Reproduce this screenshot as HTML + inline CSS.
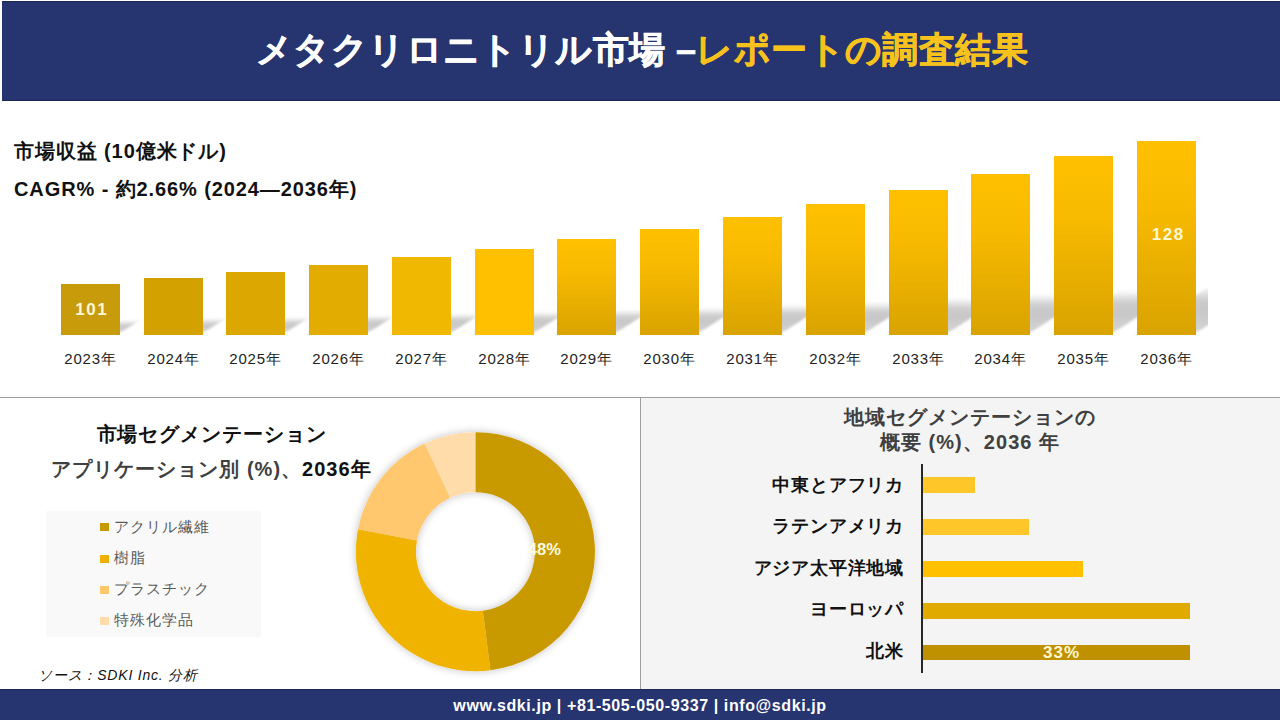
<!DOCTYPE html>
<html lang="ja">
<head>
<meta charset="utf-8">
<style>
*{margin:0;padding:0;box-sizing:border-box;}
html,body{width:1280px;height:720px;overflow:hidden;background:#fff;}
body{position:relative;font-family:"Liberation Sans",sans-serif;color:#111;}
.abs{position:absolute;}
#hdr{left:2px;top:1px;width:1278px;height:100px;background:#263470;border-top:1px solid #1f2656;border-bottom:1px solid #1f2656;}
#title{left:0;top:28px;width:1284px;text-align:center;font-size:36px;letter-spacing:0.4px;font-weight:bold;color:#fff;white-space:nowrap;line-height:44px;}
#title .y{color:#f8c21c;-webkit-text-stroke:0.6px #f8c21c;}
#title{-webkit-text-stroke:0.6px #fff;}
.t1{font-size:20px;font-weight:bold;white-space:nowrap;line-height:24px;color:#111;letter-spacing:0.9px;}
.bar{position:absolute;width:59px;}
.shadow{position:absolute;width:59px;transform-origin:bottom left;transform:skewX(-57deg);background:linear-gradient(to top,rgba(0,0,0,.16) 0%,rgba(0,0,0,.22) 45%,rgba(0,0,0,.2) 70%,rgba(0,0,0,0) 100%);filter:blur(2px);}
#shadows{position:absolute;left:0;top:100px;width:1208px;height:240px;overflow:hidden;}
.yr{position:absolute;top:349px;width:80px;text-align:center;font-size:15px;letter-spacing:0.8px;color:#222;white-space:nowrap;line-height:20px;}
.val{position:absolute;width:59px;text-align:center;font-size:17px;letter-spacing:1.5px;text-indent:1.5px;font-weight:bold;color:#fff8d4;line-height:18px;}
#hline{left:0;top:397px;width:1280px;height:1px;background:#9e9e9e;}
#vline{left:640px;top:397px;width:1px;height:292px;background:#9e9e9e;}
#rp{left:641px;top:398px;width:639px;height:291px;background:#f4f4f4;}
#ftr{left:0;top:689px;width:1280px;height:31px;background:#263470;border-top:1px solid #1f2656;}
#ftxt{left:0;top:695.7px;width:1280px;text-align:center;color:#fff;font-weight:bold;font-size:16px;letter-spacing:0.6px;line-height:20px;white-space:nowrap;}
.lg{position:absolute;left:100px;width:9px;height:8px;}
.lgt{position:absolute;left:114px;font-size:15px;letter-spacing:1px;color:#595959;line-height:18px;white-space:nowrap;}
.rl{position:absolute;right:376px;font-size:18px;letter-spacing:0.8px;font-weight:bold;color:#111;white-space:nowrap;line-height:22px;text-align:right;}
.hb{position:absolute;left:923px;height:16px;}
</style>
</head>
<body>
<div id="hdr" class="abs"></div>
<div id="title" class="abs">メタクリロニトリル市場 –<span class="y">レポートの調査結果</span></div>

<div class="abs t1" style="left:14px;top:139px;">市場収益 (10億米ドル)</div>
<div class="abs t1" style="left:14px;top:177px;">CAGR% - 約2.66% (2024―2036年)</div>

<!-- shadows -->
<div id="shadows">
<div class="shadow" style="left:61px;top:221px;height:12px;"></div>
<div class="shadow" style="left:144px;top:219px;height:14px;"></div>
<div class="shadow" style="left:226px;top:218px;height:15px;"></div>
<div class="shadow" style="left:309px;top:216px;height:17px;"></div>
<div class="shadow" style="left:392px;top:214px;height:19px;"></div>
<div class="shadow" style="left:475px;top:212px;height:21px;"></div>
<div class="shadow" style="left:557px;top:210px;height:23px;"></div>
<div class="shadow" style="left:640px;top:208px;height:25px;"></div>
<div class="shadow" style="left:723px;top:205px;height:28px;"></div>
<div class="shadow" style="left:806px;top:202px;height:31px;"></div>
<div class="shadow" style="left:889px;top:198px;height:35px;"></div>
<div class="shadow" style="left:971px;top:194px;height:39px;"></div>
<div class="shadow" style="left:1054px;top:190px;height:43px;"></div>
<div class="shadow" style="left:1137px;top:186px;height:47px;"></div>
</div>
<!-- bars -->
<div id="bars">
<div class="bar" style="left:61px;top:284px;height:51px;background:#c89b0a"></div>
<div class="bar" style="left:144px;top:278px;height:57px;background:#d4a200"></div>
<div class="bar" style="left:226px;top:272px;height:63px;background:#dca800"></div>
<div class="bar" style="left:309px;top:265px;height:70px;background:#e2ad00"></div>
<div class="bar" style="left:392px;top:257px;height:78px;background:#f0b800"></div>
<div class="bar" style="left:475px;top:249px;height:86px;background:#ffc000"></div>
<div class="bar" style="left:557px;top:239px;height:96px;background:linear-gradient(to bottom,#ffc000 0%,#f7ba00 35%,#d9a300 100%)"></div>
<div class="bar" style="left:640px;top:229px;height:106px;background:linear-gradient(to bottom,#ffc000 0%,#f7ba00 35%,#d9a300 100%)"></div>
<div class="bar" style="left:723px;top:217px;height:118px;background:linear-gradient(to bottom,#ffc000 0%,#f7ba00 35%,#d9a300 100%)"></div>
<div class="bar" style="left:806px;top:204px;height:131px;background:linear-gradient(to bottom,#ffc000 0%,#f7ba00 35%,#d9a300 100%)"></div>
<div class="bar" style="left:889px;top:190px;height:145px;background:linear-gradient(to bottom,#ffc000 0%,#f7ba00 35%,#d9a300 100%)"></div>
<div class="bar" style="left:971px;top:174px;height:161px;background:linear-gradient(to bottom,#ffc000 0%,#f7ba00 35%,#d9a300 100%)"></div>
<div class="bar" style="left:1054px;top:156px;height:179px;background:linear-gradient(to bottom,#ffc000 0%,#f7ba00 35%,#d9a300 100%)"></div>
<div class="bar" style="left:1137px;top:141px;height:194px;background:linear-gradient(to bottom,#ffc000 0%,#f7ba00 35%,#d9a300 100%)"></div>
<div class="val" style="left:61.5px;top:301px;">101</div>
<div class="val" style="left:1138px;top:225.5px;">128</div>
<div class="yr" style="left:50.5px;">2023年</div>
<div class="yr" style="left:133.5px;">2024年</div>
<div class="yr" style="left:215.5px;">2025年</div>
<div class="yr" style="left:298.5px;">2026年</div>
<div class="yr" style="left:381.5px;">2027年</div>
<div class="yr" style="left:464.5px;">2028年</div>
<div class="yr" style="left:546.5px;">2029年</div>
<div class="yr" style="left:629.5px;">2030年</div>
<div class="yr" style="left:712.5px;">2031年</div>
<div class="yr" style="left:795.5px;">2032年</div>
<div class="yr" style="left:878.5px;">2033年</div>
<div class="yr" style="left:960.5px;">2034年</div>
<div class="yr" style="left:1043.5px;">2035年</div>
<div class="yr" style="left:1126.5px;">2036年</div>
</div>

<div id="hline" class="abs"></div>
<div id="rp" class="abs"></div>
<div id="vline" class="abs"></div>

<!-- left panel -->
<div class="abs" style="left:0;top:422px;width:423px;text-align:center;font-size:20px;letter-spacing:0.9px;font-weight:bold;color:#111;line-height:24px;white-space:nowrap;">市場セグメンテーション</div>
<div class="abs" style="left:0;top:457px;width:423px;text-align:center;font-size:20px;letter-spacing:1px;font-weight:bold;color:#404040;line-height:24px;white-space:nowrap;">アプリケーション別 (%)、<span style="color:#111">2036年</span></div>

<div class="abs" style="left:46px;top:511px;width:215px;height:126px;background:#f9f9f9;"></div>
<div class="lg" style="top:523px;background:#c79800;"></div>
<div class="lgt" style="top:518px;">アクリル繊維</div>
<div class="lg" style="top:554.5px;background:#f0b000;"></div>
<div class="lgt" style="top:549px;">樹脂</div>
<div class="lg" style="top:586px;background:#ffc76a;"></div>
<div class="lgt" style="top:580px;">プラスチック</div>
<div class="lg" style="top:617px;background:#ffdca8;"></div>
<div class="lgt" style="top:611px;">特殊化学品</div>

<div class="abs" style="left:38px;top:666px;font-size:14px;letter-spacing:0.8px;font-style:italic;color:#111;white-space:nowrap;line-height:18px;">ソース：SDKI Inc. 分析</div>

<svg class="abs" style="left:0;top:0;" width="1280" height="720" viewBox="0 0 1280 720">
<defs>
<filter id="ds" x="-20%" y="-20%" width="140%" height="140%"><feGaussianBlur in="SourceAlpha" stdDeviation="4"/><feOffset dx="0" dy="0"/><feComponentTransfer><feFuncA type="linear" slope="0.25"/></feComponentTransfer><feMerge><feMergeNode/><feMergeNode in="SourceGraphic"/></feMerge></filter>
</defs>
<g id="donut" filter="url(#ds)">
<path d="M475.4 432.2 A119.5 119.5 0 0 1 490.38 670.26 L482.86 610.73 A59.5 59.5 0 0 0 475.4 492.2 Z" fill="#c99a00"/>
<path d="M490.38 670.26 A119.5 119.5 0 0 1 358.02 529.31 L416.95 540.55 A59.5 59.5 0 0 0 482.86 610.73 Z" fill="#f0b400"/>
<path d="M358.02 529.31 A119.5 119.5 0 0 1 424.52 443.57 L450.07 497.86 A59.5 59.5 0 0 0 416.95 540.55 Z" fill="#ffc86e"/>
<path d="M424.52 443.57 A119.5 119.5 0 0 1 475.4 432.2 L475.4 492.2 A59.5 59.5 0 0 0 450.07 497.86 Z" fill="#ffdcaa"/>
</g>
<text x="544.3" y="555.4" text-anchor="middle" font-family="Liberation Sans" font-weight="bold" font-size="16.5" fill="#fffbe0">48%</text>
</svg>

<!-- right panel -->
<div class="abs" style="left:641px;top:405px;width:658px;text-align:center;font-size:20px;letter-spacing:1.05px;font-weight:bold;color:#404040;line-height:25px;white-space:nowrap;">地域セグメンテーションの<br>概要 (%)、2036 年</div>
<div class="abs" style="left:921px;top:464px;width:2px;height:209px;background:#262626;"></div>

<div class="hb" style="top:477px;width:52px;background:#ffc629;"></div>
<div class="hb" style="top:519px;width:106px;background:#ffc629;"></div>
<div class="hb" style="top:561px;width:160px;background:#ffc000;"></div>
<div class="hb" style="top:603px;width:267px;background:#e0aa00;"></div>
<div class="hb" style="top:645px;height:15px;width:267px;background:#bf9000;"></div>
<div class="abs" style="left:1031px;top:643.5px;width:60px;text-align:center;font-size:17px;letter-spacing:1px;text-indent:1px;font-weight:bold;color:#fff8d4;line-height:18px;">33%</div>

<div class="rl" style="top:473.5px;">中東とアフリカ</div>
<div class="rl" style="top:515px;">ラテンアメリカ</div>
<div class="rl" style="top:556.5px;">アジア太平洋地域</div>
<div class="rl" style="top:598px;">ヨーロッパ</div>
<div class="rl" style="top:639.5px;">北米</div>

<div id="ftr" class="abs"></div>
<div id="ftxt" class="abs">www.sdki.jp | +81-505-050-9337 | info@sdki.jp</div>

</body>
</html>
